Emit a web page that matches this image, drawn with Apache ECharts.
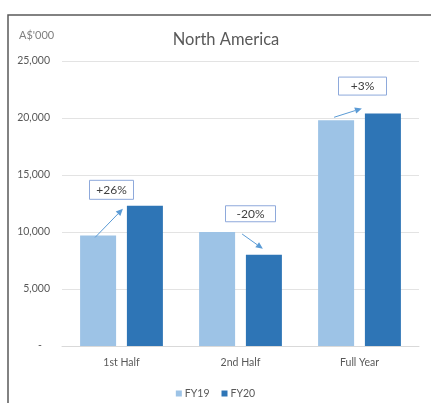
<!DOCTYPE html>
<html>
<head>
<meta charset="utf-8">
<script src="https://cdn.jsdelivr.net/npm/echarts@6/dist/echarts.min.js"></script>
<style>
html,body{margin:0;padding:0;background:#fff;}
#c{width:431px;height:403px;}
</style>
</head>
<body>
<div id="c"></div>
<script>
const categories = ['1st Half', '2nd Half', 'Full Year'];
const fy19 = [9700, 10000, 19800];
const fy20 = [12300, 8000, 20400];
const changeLabels = ['+26%', '-20%', '+3%'];
const changeLabelValues = [13700, 11600, 22800];
const seriesNames = ['FY19', 'FY20'];

const FONT = 'Lato, "Open Sans", sans-serif';
const chart = echarts.init(document.getElementById('c'), null, {renderer: 'canvas'});

chart.setOption({
  animation: false,
  backgroundColor: '#fff',
  title: {
    text: 'North America',
    left: 221, top: 26,
    textAlign: 'center',
    textStyle: {fontFamily: FONT, fontSize: 16.5, fontWeight: 'normal', color: '#595959'}
  },
  grid: {left: 62, right: 12, top: 61, bottom: 57},
  legend: {
    data: seriesNames,
    bottom: 4, left: 'center', padding: [0, 5, 0, 5],
    itemWidth: 6, itemHeight: 6, itemGap: 12,
    icon: 'rect',
    textStyle: {fontFamily: FONT, fontSize: 10.5, color: '#595959', padding: [0, 0, 0, -2]}
  },
  xAxis: {
    type: 'category',
    data: categories,
    axisTick: {show: false},
    axisLine: {lineStyle: {color: '#d9d9d9'}},
    axisLabel: {fontFamily: FONT, fontSize: 10.5, color: '#595959', margin: 11}
  },
  yAxis: {
    type: 'value',
    min: 0, max: 25000, interval: 5000,
    axisLine: {show: false},
    axisTick: {show: false},
    splitLine: {lineStyle: {color: '#e3e3e3'}},
    axisLabel: {
      fontFamily: FONT, fontSize: 10.5, color: '#595959', margin: 12,
      formatter: v => v === 0 ? '-   ' : v.toLocaleString('en-US')
    }
  },
  series: [
    {name: seriesNames[0], type: 'bar', data: fy19, barWidth: 36, barGap: '30%',
     itemStyle: {color: '#9DC3E6'}},
    {name: seriesNames[1], type: 'bar', data: fy20, barWidth: 36,
     itemStyle: {color: '#2E75B6'}}
  ]
});

function barRect(seriesIndex, i) {
  const l = chart.getModel().getSeriesByIndex(seriesIndex).getData().getItemLayout(i);
  const top = Math.min(l.y, l.y + l.height);
  return {x: l.x, right: l.x + l.width, top: top};
}

// arrow offsets relative to bars
const arrowDefs = [
  (a, b) => [[a.x + 15, a.top + 2], [b.x - 4, b.top + 3]],
  (a, b) => [[a.right + 7, a.top + 2], [b.x + 17, b.top - 6]],
  (a, b) => [[a.x + 16, a.top - 3], [b.x - 3, b.top - 5]]
];
const boxOffsets = [-10, 10, 3];
const boxSizes = [[44, 19], [50, 16], [48, 18]];

const graphics = [];
graphics.push({
  type: 'rect', shape: {x: 8, y: 15, width: 440, height: 420},
  style: {fill: null, stroke: '#5a5a5a', lineWidth: 1.5}, silent: true, z: 100
});
graphics.push({
  type: 'text', left: 19, top: 30,
  style: {text: "A$'000", font: '11px ' + FONT, fill: '#7f7f7f'}
});

categories.forEach((c, i) => {
  const a = barRect(0, i), b = barRect(1, i);
  const [s, e] = arrowDefs[i](a, b);
  const ang = Math.atan2(e[1] - s[1], e[0] - s[0]);
  const L = 7, W = 3.2;
  const bx = e[0] - L * Math.cos(ang), by = e[1] - L * Math.sin(ang);
  graphics.push({
    type: 'line', shape: {x1: s[0], y1: s[1], x2: bx, y2: by},
    style: {stroke: '#5B9BD5', lineWidth: 1}, z: 50
  });
  graphics.push({
    type: 'polygon',
    shape: {points: [e,
      [bx + W * Math.sin(ang), by - W * Math.cos(ang)],
      [bx - W * Math.sin(ang), by + W * Math.cos(ang)]]},
    style: {fill: '#5B9BD5'}, z: 50
  });
  const cx = chart.convertToPixel({xAxisIndex: 0}, c) + boxOffsets[i];
  const cy = chart.convertToPixel({yAxisIndex: 0}, changeLabelValues[i]);
  const [w, h] = boxSizes[i];
  graphics.push({
    type: 'rect', shape: {x: cx - w / 2, y: cy - h / 2, width: w, height: h},
    style: {fill: '#fff', stroke: '#8EA9DB', lineWidth: 1}, z: 60
  });
  graphics.push({
    type: 'text', x: cx, y: cy,
    style: {text: changeLabels[i], font: '12px ' + FONT, fill: '#404040',
            align: 'center', verticalAlign: 'middle'}, z: 61
  });
});

chart.setOption({graphic: graphics});
</script>
</body>
</html>
